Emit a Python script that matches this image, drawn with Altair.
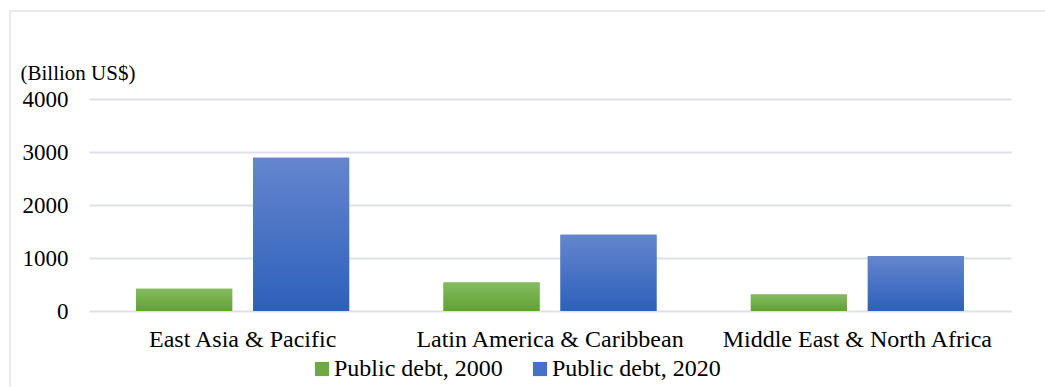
import altair as alt
import pandas as pd

# Regions and public debt stock (billion US$)
regions = ["East Asia & Pacific", "Latin America & Caribbean", "Middle East & North Africa"]
series = ["Public debt, 2000", "Public debt, 2020"]
debt_2000 = [420, 540, 310]
debt_2020 = [2890, 1440, 1040]

rows = []
for r, a, b in zip(regions, debt_2000, debt_2020):
    rows.append({"region": r, "series": series[0], "value": a})
    rows.append({"region": r, "series": series[1], "value": b})
df = pd.DataFrame(rows)

W, H = 922, 212
FONT = "Liberation Serif"

green_grad = alt.LinearGradient(
    gradient="linear", x1=0, y1=0, x2=0, y2=1,
    stops=[alt.GradientStop(offset=0, color="#85bb61"),
           alt.GradientStop(offset=1, color="#5fa231")],
)
blue_grad = alt.LinearGradient(
    gradient="linear", x1=0, y1=0, x2=0, y2=1,
    stops=[alt.GradientStop(offset=0, color="#6586ce"),
           alt.GradientStop(offset=1, color="#2d60bb")],
)

x_enc = alt.X(
    "region:N", sort=regions,
    scale=alt.Scale(paddingInner=0.307, paddingOuter=0.1535),
    axis=alt.Axis(title=None, labelAngle=0, domain=False, ticks=False, grid=False,
                  labelFont=FONT, labelFontSize=24, labelColor="#000",
                  labelPadding=16, labelBaseline="top", labelLimit=0),
)
xoff_enc = alt.XOffset("series:N", sort=series,
                       scale=alt.Scale(paddingInner=0.179, paddingOuter=0))
y_enc = alt.Y(
    "value:Q", scale=alt.Scale(domain=[0, 4000], nice=False),
    axis=alt.Axis(values=[0, 1000, 2000, 3000, 4000], format="d",
                  domain=False, ticks=False,
                  grid=True, gridColor="#dde0e7", gridWidth=1.8,
                  labelFont=FONT, labelFontSize=23, labelColor="#000", labelPadding=21,
                  title="(Billion US$)", titleAngle=0, titleAlign="left",
                  titleBaseline="alphabetic", titleX=-69, titleY=-20,
                  titleFont=FONT, titleFontSize=21, titleFontWeight="normal",
                  titleColor="#000"),
)

# flat bars carry the legend
flat = alt.Chart(df).mark_bar().encode(
    x=x_enc, xOffset=xoff_enc, y=y_enc,
    color=alt.Color(
        "series:N", sort=series,
        scale=alt.Scale(domain=series, range=["#6dab42", "#4472c4"]),
        legend=alt.Legend(
            title=None, orient="none", direction="horizontal",
            legendX=221, legendY=258,
            symbolType="square", symbolSize=200, symbolStrokeWidth=0,
            labelFont=FONT, labelFontSize=24, labelColor="#000", labelLimit=0,
            labelOffset=0, columnPadding=25,
        ),
    ),
)

# gradient-filled bars drawn on top
shaded = alt.Chart(df).mark_bar().encode(
    x=x_enc, xOffset=xoff_enc, y=y_enc,
    fill=alt.condition(alt.datum.series == series[0],
                       alt.value(green_grad), alt.value(blue_grad)),
)

frame = alt.Chart(alt.Data(values=[{}])).mark_rect(
    fill=None, stroke="#dfe3ea", strokeWidth=1.5
).encode(
    x=alt.value(-79), x2=alt.value(W + 60),
    y=alt.value(-88), y2=alt.value(H + 120),
)

chart = alt.layer(frame, flat, shaded).properties(
    width=W, height=H,
    autosize=alt.AutoSizeParams(type="none"),
    padding={"left": 89, "top": 99, "right": 34, "bottom": 76},
    background="white",
).configure_view(stroke=None)

chart.save("out.html", embed_options={"renderer": "svg", "actions": False})
